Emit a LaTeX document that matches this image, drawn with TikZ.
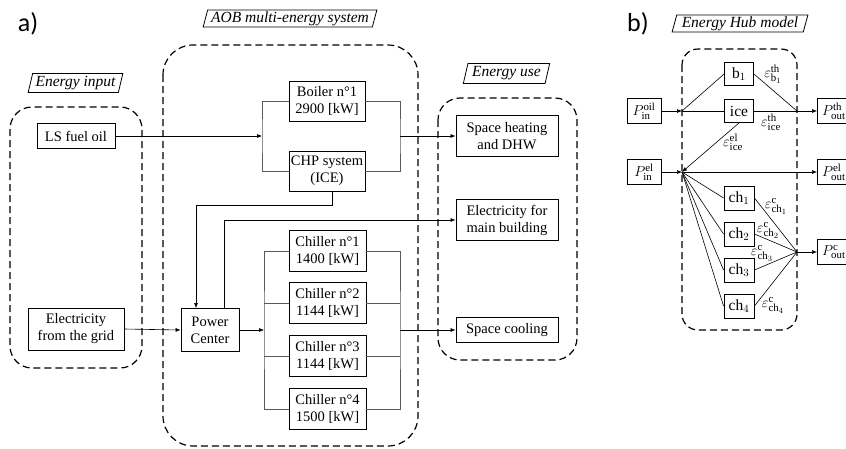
\documentclass[tikz,border=0pt]{standalone}
\usepackage{fontspec}
\setmainfont{Liberation Serif}[ItalicFont={Liberation Serif Italic}]
\newfontfamily\tagfont{Liberation Serif Italic}
\newfontfamily\labfont{Carlito}
\usetikzlibrary{arrows.meta,shapes.geometric}
\tikzset{
  box/.style={draw, line width=0.9pt, inner sep=0pt, align=center, font=\fontsize{14.5}{17}\selectfont},
  hbox/.style={draw, line width=0.9pt, inner sep=0pt, align=center, minimum width=29pt, minimum height=23pt, font=\fontsize{15.5}{17}\selectfont},
  grp/.style={draw, dash pattern=on 7pt off 4pt, line width=1.2pt, rounded corners=22pt},
  tag/.style={draw, line width=0.8pt, trapezium, trapezium left angle=73, trapezium right angle=107, trapezium stretches=true, inner sep=0pt, font=\tagfont\fontsize{15.5}{17}\selectfont},
  arr/.style={line width=0.6pt, -{Latex[length=5pt,width=4pt]}},
  conn/.style={line width=0.6pt},
  branch/.style={line width=0.6pt, black!65},
  eps/.style={inner sep=0pt, font=\fontsize{15.5}{17}\selectfont},
  panel/.style={inner sep=0pt, font=\labfont\fontsize{26}{30}\selectfont}
}
\begin{document}
\begin{tikzpicture}[x=1pt,y=-1pt]
\useasboundingbox (0,0) rectangle (846,448);
\clip (0,0) rectangle (846,448);
% panel labels
\node[panel] (pa) at (28,24) {a)};
\node[panel] (pb) at (638,24) {b)};
% groups
\draw[grp] (10,107) rectangle (142,368);
\draw[grp, rounded corners=30pt] (163,45) rectangle (418,446);
\draw[grp] (438,98) rectangle (577,360);
\draw[grp, rounded corners=16pt] (682,49) rectangle (797,330);
% tags
\node[tag, minimum width=174pt, minimum height=17pt] (t1) at (290,18.5) {AOB multi-energy system};
\node[tag, minimum width=95pt, minimum height=19pt] (t2) at (75.5,83) {Energy input};
\node[tag, minimum width=87pt, minimum height=20pt] (t3) at (506.5,73.5) {Energy use};
\node[tag, minimum width=136pt, minimum height=17pt] (t4) at (740,23.5) {Energy Hub model};
% panel a boxes
\node[box, minimum width=78pt, minimum height=25pt] (fuel) at (76,136) {LS fuel oil};
\node[box, minimum width=96pt, minimum height=42pt] (grid) at (76,329) {Electricity\\from the grid};
\node[box, minimum width=76pt, minimum height=40pt] (boiler) at (327,101) {Boiler n°1\\2900 [kW]};
\node[box, minimum width=76pt, minimum height=40pt] (chp) at (327,171) {CHP system\\(ICE)};
\node[box, minimum width=58pt, minimum height=43pt] (pc) at (210,330) {Power\\Center};
\node[box, minimum width=77pt, minimum height=41pt] (c1) at (327.5,251) {Chiller n°1\\1400 [kW]};
\node[box, minimum width=77pt, minimum height=41pt] (c2) at (327.5,303) {Chiller n°2\\1144 [kW]};
\node[box, minimum width=77pt, minimum height=41pt] (c3) at (327.5,356) {Chiller n°3\\1144 [kW]};
\node[box, minimum width=77pt, minimum height=41pt] (c4) at (327.5,409) {Chiller n°4\\1500 [kW]};
\node[box, minimum width=102pt, minimum height=41pt] (heat) at (507,136) {Space heating\\and DHW};
\node[box, minimum width=102pt, minimum height=41pt] (elec) at (507,220) {Electricity for\\main building};
\node[box, minimum width=102pt, minimum height=25pt] (cool) at (507,330) {Space cooling};
% junctions
\coordinate (fjl) at (262,136);
\coordinate (fjr) at (400,136);
\coordinate (cjl) at (264,330);
\coordinate (cjr) at (400,330);
% panel a connectors
\draw[arr] (fuel.east) -- (fjl);
\draw[branch] (boiler.west) -| (fjl) |- (chp.west);
\draw[branch] (boiler.east) -| (fjr) |- (chp.east);
\draw[arr] (fjr) -- (heat.west);
\draw[arr] ([xshift=5pt]chp.south) |- (196,205) -- ([xshift=-14pt]pc.north);
\draw[arr] ([xshift=14pt]pc.north) |- (elec.west);
\draw[arr] (grid.east) -- (pc.west);
\draw[arr] (pc.east) -- (cjl);
\draw[branch] (c1.west) -| (cjl) |- (c4.west);
\draw[branch] (c2.west) -- (c2.west -| cjl);
\draw[branch] (c3.west) -- (c3.west -| cjl);
\draw[branch] (c1.east) -| (cjr) |- (c4.east);
\draw[branch] (c2.east) -- (c2.east -| cjr);
\draw[branch] (c3.east) -- (c3.east -| cjr);
\draw[arr] (cjr) -- (cool.west);
% panel b boxes
\node[hbox, minimum width=34pt, minimum height=25pt] (pinoil) at (644,111) {$P^{\mathrm{oil}}_{\mathrm{in}}$};
\node[hbox, minimum width=34pt, minimum height=25pt] (pinel) at (644,172) {$P^{\mathrm{el}}_{\mathrm{in}}$};
\node[hbox] (b1) at (739,74) {b$_1$};
\node[hbox] (ice) at (739,111) {ice};
\node[hbox, minimum width=30pt, minimum height=24pt] (h1) at (739,198) {ch$_1$};
\node[hbox, minimum width=30pt, minimum height=24pt] (h2) at (739,234) {ch$_2$};
\node[hbox, minimum width=30pt, minimum height=24pt] (h3) at (739,270) {ch$_3$};
\node[hbox, minimum width=30pt, minimum height=24pt] (h4) at (739,306) {ch$_4$};
\node[hbox, minimum width=40pt, minimum height=25pt, text width=36pt, align=left] (poth) at (837.5,111) {\,$P^{\mathrm{th}}_{\mathrm{out}}$};
\node[hbox, minimum width=40pt, minimum height=25pt, text width=36pt, align=left] (poel) at (837.5,172) {\,$P^{\mathrm{el}}_{\mathrm{out}}$};
\node[hbox, minimum width=40pt, minimum height=25pt, text width=36pt, align=left] (poc) at (837.5,252) {\,$P^{\mathrm{c}}_{\mathrm{out}}$};
\coordinate (hoil) at (682,111);
\coordinate (hel) at (682,172);
\coordinate (hth) at (797,111);
\coordinate (hc) at (797,252);
% panel b connectors
\draw[arr] (pinoil) -- (hoil);
\draw[conn] (hoil) -- (b1.west);
\draw[conn] (hoil) -- (ice.west);
\draw[conn] (b1.east) -- (hth);
\draw[conn] (ice.east) -- (hth);
\draw[arr] (hth) -- (poth.west);
\draw[arr] (ice.south) -- (hel);
\draw[arr] (pinel) -- (hel);
\draw[arr] (hel) -- (poel.west);
\foreach \h in {h1,h2,h3,h4}{
  \draw[conn] (hel) -- (\h.west);
  \draw[conn] (\h.east) -- (hc);
}
\draw[arr] (hc) -- (poc.west);
% efficiency labels
\node[eps] (e1) at (773,74) {$\varepsilon^{\mathrm{th}}_{\mathrm{b}_1}$};
\node[eps] (e2) at (771,122) {$\varepsilon^{\mathrm{th}}_{\mathrm{ice}}$};
\node[eps] (e3) at (733,142) {$\varepsilon^{\mathrm{el}}_{\mathrm{ice}}$};
\node[eps] (e4) at (776,206) {$\varepsilon^{\mathrm{c}}_{\mathrm{ch}_1}$};
\node[eps] (e5) at (768,230) {$\varepsilon^{\mathrm{c}}_{\mathrm{ch}_2}$};
\node[eps] (e6) at (762,253) {$\varepsilon^{\mathrm{c}}_{\mathrm{ch}_3}$};
\node[eps] (e7) at (773,305) {$\varepsilon^{\mathrm{c}}_{\mathrm{ch}_4}$};
\end{tikzpicture}
\end{document}
